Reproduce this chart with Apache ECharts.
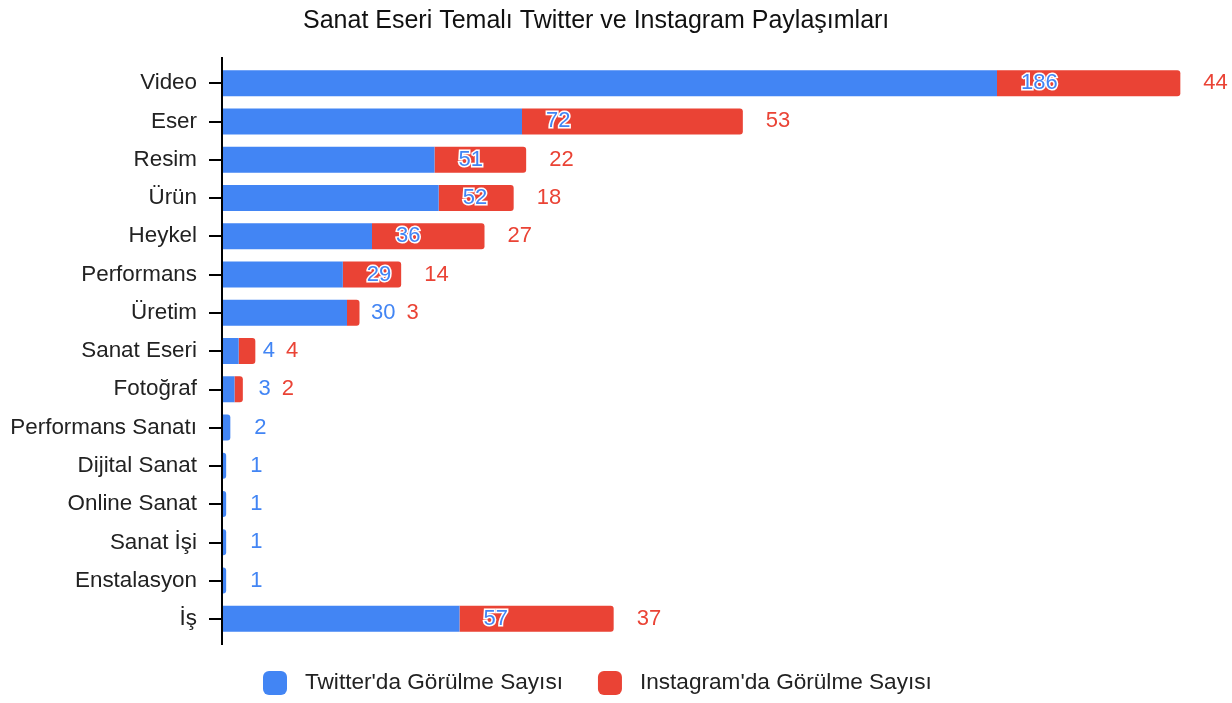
<!DOCTYPE html>
<html>
<head>
<meta charset="utf-8">
<script src="https://cdn.jsdelivr.net/npm/echarts@6/dist/echarts.min.js"></script>
<style>
  html, body { margin: 0; padding: 0; background: #fff; }
  #chart { width: 1232px; height: 703px; }
</style>
</head>
<body>
<div id="chart"></div>
<script>
var categories = ['Video', 'Eser', 'Resim', 'Ürün', 'Heykel', 'Performans', 'Üretim', 'Sanat Eseri',
  'Fotoğraf', 'Performans Sanatı', 'Dijital Sanat', 'Online Sanat', 'Sanat İşi', 'Enstalasyon', 'İş']
var twitter = [186, 72, 51, 52, 36, 29, 30, 4, 3, 2, 1, 1, 1, 1, 57]
var instagram = [44, 53, 22, 18, 27, 14, 3, 4, 2, 0, 0, 0, 0, 0, 37]

var BLUE = '#4285f4'
var RED = '#ea4335'
var FONT = '"Liberation Sans", Arial, sans-serif'
var LABEL_SIZE = 22

// plot area
var GRID_LEFT = 222
var GRID_TOP = 64
var GRID_HEIGHT = 574

// text width, used to keep the instagram label clear of the twitter one
var ctx = document.createElement('canvas').getContext('2d')
ctx.font = LABEL_SIZE + 'px ' + FONT
function textWidth (s) {
  return ctx.measureText(s).width
}

var chart = echarts.init(document.getElementById('chart'))

chart.setOption({
  backgroundColor: '#fff',
  animation: false,
  title: {
    text: 'Sanat Eseri Temalı Twitter ve Instagram Paylaşımları',
    left: 298,
    top: 4,
    textStyle: {
      fontFamily: FONT,
      fontSize: 25,
      fontWeight: 'normal',
      color: '#111'
    }
  },
  legend: {
    bottom: 3,
    left: 258,
    itemWidth: 24,
    itemHeight: 24,
    itemGap: 35,
    icon: 'roundRect',
    textStyle: {
      fontFamily: FONT,
      fontSize: 22.6,
      color: '#222',
      padding: [0, 0, 0, 13]
    },
    data: ["Twitter'da Görülme Sayısı", "Instagram'da Görülme Sayısı"]
  },
  grid: {
    left: GRID_LEFT,
    top: GRID_TOP,
    height: GRID_HEIGHT,
    width: 1000
  },
  // the axis line runs a little past the plot area, as in the original
  graphic: [{
    type: 'line',
    z: 10,
    shape: { x1: GRID_LEFT, y1: GRID_TOP - 7, x2: GRID_LEFT, y2: GRID_TOP + GRID_HEIGHT + 7 },
    style: { stroke: '#000', lineWidth: 2 }
  }],
  xAxis: {
    type: 'value',
    min: 0,
    max: 240,
    show: false
  },
  yAxis: {
    type: 'category',
    inverse: true,
    data: categories,
    axisLine: { show: false },
    axisTick: { show: true, alignWithLabel: true, length: 13, lineStyle: { color: '#000', width: 2 } },
    axisLabel: {
      fontFamily: FONT,
      fontSize: 22.4,
      color: '#222',
      margin: 25
    }
  },
  series: [
    {
      name: "Twitter'da Görülme Sayısı",
      type: 'bar',
      stack: 'all',
      barWidth: 26,
      z: 3,
      data: twitter.map(function (v, i) {
        return {
          value: v,
          itemStyle: { borderRadius: instagram[i] === 0 ? [0, 3, 3, 0] : 0 }
        }
      }),
      itemStyle: { color: BLUE },
      label: {
        show: true,
        position: 'right',
        distance: 24,
        fontFamily: FONT,
        fontSize: LABEL_SIZE,
        color: BLUE,
        textBorderColor: '#fff',
        textBorderWidth: 3
      }
    },
    {
      name: "Instagram'da Görülme Sayısı",
      type: 'bar',
      stack: 'all',
      barWidth: 26,
      z: 2,
      data: instagram,
      itemStyle: { color: RED, borderRadius: [0, 3, 3, 0] },
      label: {
        show: true,
        position: 'right',
        distance: 23,
        fontFamily: FONT,
        fontSize: LABEL_SIZE,
        color: RED,
        formatter: function (p) {
          return p.value === 0 ? '' : String(p.value)
        }
      },
      labelLayout: function (p) {
        // twitter label starts 24px after the blue bar end
        var blueLabelEnd = p.rect.x + 24 + textWidth(String(twitter[p.dataIndex]))
        var d = blueLabelEnd + 11 - p.labelRect.x
        return d > 0 ? { dx: d } : {}
      }
    }
  ]
})
</script>
</body>
</html>
